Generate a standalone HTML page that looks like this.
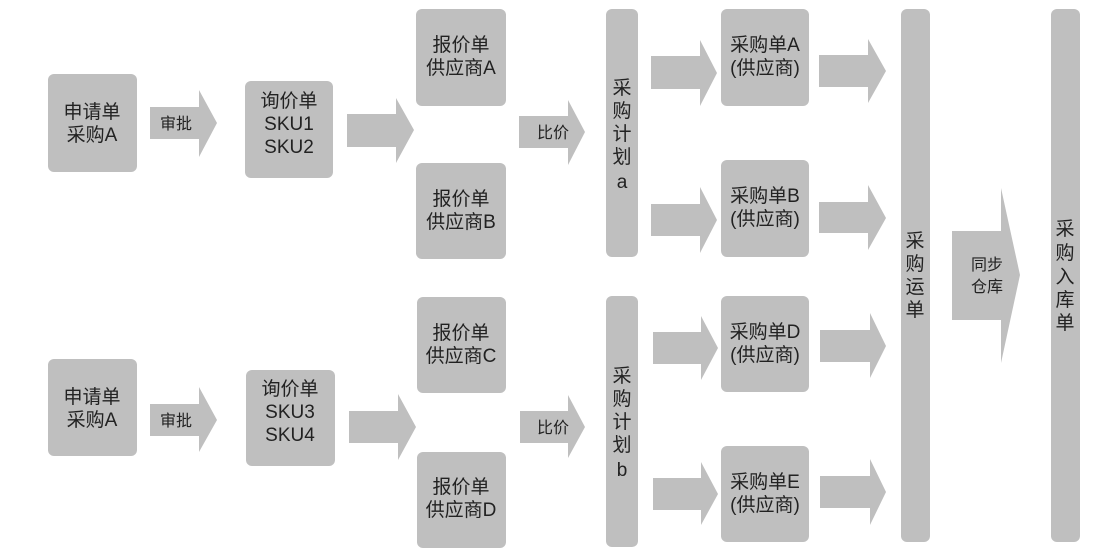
<!DOCTYPE html>
<html><head><meta charset="utf-8"><style>
html,body{margin:0;padding:0;background:#fff;}
svg{display:block}
text{font-family:"Liberation Sans","Noto Sans CJK SC",sans-serif;fill:#222;text-anchor:middle;}
.b{font-size:19px}.s{font-size:16px}.v{font-size:19px}
</style></head><body>
<svg width="1102" height="554" viewBox="0 0 1102 554" xmlns="http://www.w3.org/2000/svg">
<g fill="#bfbfbf">
<rect x="48" y="74" width="89" height="98" rx="6"/>
<polygon points="150,107 199,107 199,90 217,123 199,157 199,139 150,139"/>
<rect x="245" y="81" width="88" height="97" rx="6"/>
<polygon points="347,114 396,114 396,98 414,130 396,163 396,147 347,147"/>
<rect x="416" y="9" width="90" height="97" rx="6"/>
<rect x="416" y="163" width="90" height="96" rx="6"/>
<polygon points="519,116 568,116 568,100 585,132 568,165 568,148 519,148"/>
<rect x="606" y="9" width="32" height="248" rx="6"/>
<polygon points="651,56 700,56 700,40 717,73 700,106 700,89 651,89"/>
<polygon points="651,204 700,204 700,187 717,220 700,253 700,236 651,236"/>
<rect x="721" y="9" width="88" height="97" rx="6"/>
<rect x="721" y="160" width="88" height="97" rx="6"/>
<polygon points="819,55 868,55 868,39 886,71 868,103 868,87 819,87"/>
<polygon points="819,202 868,202 868,185 886,218 868,250 868,233 819,233"/>
<rect x="48" y="359" width="89" height="97" rx="6"/>
<polygon points="150,404 199,404 199,387 217,420 199,452 199,436 150,436"/>
<rect x="246" y="370" width="89" height="96" rx="6"/>
<polygon points="349,411 398,411 398,394 416,427 398,460 398,443 349,443"/>
<rect x="417" y="297" width="89" height="96" rx="6"/>
<rect x="417" y="452" width="89" height="96" rx="6"/>
<polygon points="520,411 568,411 568,395 585,427 568,458 568,443 520,443"/>
<rect x="606" y="296" width="32" height="251" rx="6"/>
<polygon points="653,332 701,332 701,316 718,348 701,380 701,364 653,364"/>
<polygon points="653,478 701,478 701,462 718,494 701,525 701,510 653,510"/>
<rect x="721" y="296" width="88" height="96" rx="6"/>
<rect x="721" y="446" width="88" height="96" rx="6"/>
<polygon points="820,330 870,330 870,313 886,346 870,378 870,362 820,362"/>
<polygon points="820,476 870,476 870,459 886,492 870,525 870,508 820,508"/>
<rect x="901" y="9" width="29" height="533" rx="6"/>
<polygon points="952,231 1001,231 1001,188 1020,275 1001,363 1001,320 952,320"/>
<rect x="1051" y="9" width="29" height="533" rx="6"/>
</g>
<g class="b">
<text x="92" y="118">申请单</text><text x="92" y="141">采购A</text>
<text x="289" y="107">询价单</text><text x="289" y="130">SKU1</text><text x="289" y="153">SKU2</text>
<text x="461" y="51">报价单</text><text x="461" y="74">供应商A</text>
<text x="461" y="205">报价单</text><text x="461" y="228">供应商B</text>
<text x="765" y="51">采购单A</text><text x="765" y="74">(供应商)</text>
<text x="765" y="202">采购单B</text><text x="765" y="225">(供应商)</text>
<text x="92" y="403">申请单</text><text x="92" y="426">采购A</text>
<text x="290" y="395">询价单</text><text x="290" y="418">SKU3</text><text x="290" y="441">SKU4</text>
<text x="461" y="339">报价单</text><text x="461" y="362">供应商C</text>
<text x="461" y="493">报价单</text><text x="461" y="516">供应商D</text>
<text x="765" y="338">采购单D</text><text x="765" y="361">(供应商)</text>
<text x="765" y="488">采购单E</text><text x="765" y="511">(供应商)</text>
</g>
<g class="s">
<text x="176" y="129">审批</text>
<text x="176" y="426">审批</text>
<text x="553" y="138">比价</text>
<text x="553" y="433">比价</text>
<text x="987" y="270">同步</text><text x="987" y="292">仓库</text>
</g>
<g class="v">
<text x="622" y="94">采</text><text x="622" y="117">购</text><text x="622" y="140">计</text><text x="622" y="163">划</text><text x="622" y="188">a</text>
<text x="622" y="382">采</text><text x="622" y="405">购</text><text x="622" y="428">计</text><text x="622" y="451">划</text><text x="622" y="476">b</text>
<text x="915" y="247">采</text><text x="915" y="270">购</text><text x="915" y="293">运</text><text x="915" y="316">单</text>
<text x="1065" y="235">采</text><text x="1065" y="259">购</text><text x="1065" y="283">入</text><text x="1065" y="306">库</text><text x="1065" y="329">单</text>
</g>
</svg>
</body></html>
